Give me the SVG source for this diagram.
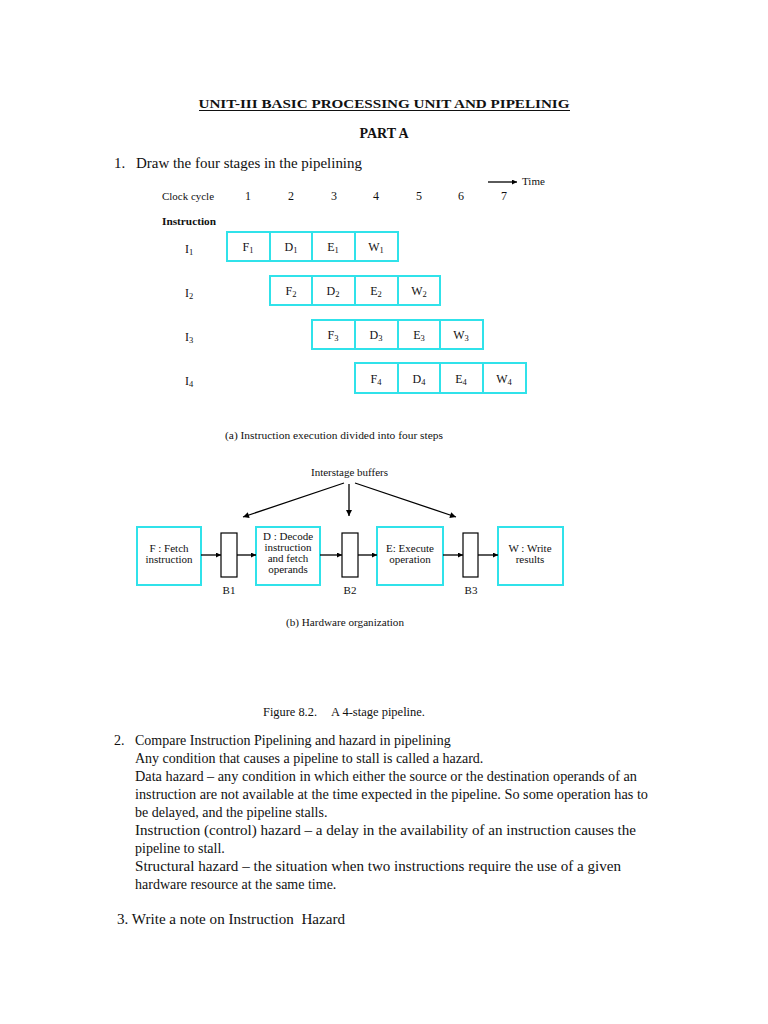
<svg xmlns="http://www.w3.org/2000/svg" width="768" height="1024" viewBox="0 0 768 1024">
<defs>
<marker id="ah" viewBox="0 0 10 10" refX="10" refY="5" markerWidth="7" markerHeight="5" markerUnits="userSpaceOnUse" orient="auto"><path d="M0,0 L10,5 L0,10 z" fill="#000"/></marker>
<marker id="ah2" viewBox="0 0 10 10" refX="10" refY="5" markerWidth="9" markerHeight="6" markerUnits="userSpaceOnUse" orient="auto"><path d="M0,0 L10,5 L0,10 z" fill="#000"/></marker>
<style>
text{font-family:"Liberation Serif","Times New Roman",serif;fill:#111}
.body{font-size:14px}
.sm{font-size:11px}
.cell{font-size:12px;text-anchor:middle}
.mid{text-anchor:middle}
.bx{font-size:11px;text-anchor:middle}
.box{fill:#fff;stroke:#30e2ea;stroke-width:2}
.buf{fill:#fff;stroke:#000;stroke-width:1.2}
.ln{stroke:#000;stroke-width:1.3;fill:none}
</style>
</defs>
<rect width="768" height="1024" fill="#fff"/>

<g id="header">
<text x="384" y="108" class="mid" font-size="13.5" font-weight="bold" textLength="371" lengthAdjust="spacingAndGlyphs">UNIT-III BASIC PROCESSING UNIT AND PIPELINIG</text>
<line x1="199" y1="110.5" x2="570" y2="110.5" stroke="#111" stroke-width="1"/>
<text x="384" y="138" class="mid" font-size="14" font-weight="bold">PART A</text>
<text x="114" y="168" font-size="15">1.</text>
<text x="136" y="168" font-size="15" textLength="226" lengthAdjust="spacingAndGlyphs">Draw the four stages in the pipelining</text>
</g>

<g id="chart-labels">
<line x1="488" y1="182" x2="517" y2="182" class="ln" marker-end="url(#ah)"/>
<text x="522" y="185" class="sm">Time</text>
<text x="162" y="200" class="sm" textLength="52" lengthAdjust="spacingAndGlyphs">Clock cycle</text>
<text x="248" y="200" class="cell" font-size="11.5">1</text>
<text x="291" y="200" class="cell" font-size="11.5">2</text>
<text x="334" y="200" class="cell" font-size="11.5">3</text>
<text x="376" y="200" class="cell" font-size="11.5">4</text>
<text x="419" y="200" class="cell" font-size="11.5">5</text>
<text x="461" y="200" class="cell" font-size="11.5">6</text>
<text x="504" y="200" class="cell" font-size="11.5">7</text>
<text x="162" y="225" class="sm" font-weight="bold" textLength="54" lengthAdjust="spacingAndGlyphs">Instruction</text>
<text x="185" y="253" font-size="12">I<tspan font-size="8.5" dy="2">1</tspan></text>
<text x="185" y="297" font-size="12">I<tspan font-size="8.5" dy="2">2</tspan></text>
<text x="185" y="341" font-size="12">I<tspan font-size="8.5" dy="2">3</tspan></text>
<text x="185" y="385" font-size="12">I<tspan font-size="8.5" dy="2">4</tspan></text>
</g>

<g id="row1">
<rect x="227" y="232" width="43" height="29" class="box"/><rect x="270" y="232" width="42" height="29" class="box"/><rect x="312" y="232" width="43" height="29" class="box"/><rect x="355" y="232" width="43" height="29" class="box"/>
<text x="248" y="251" class="cell">F<tspan font-size="8.5" dy="2">1</tspan></text>
<text x="291" y="251" class="cell">D<tspan font-size="8.5" dy="2">1</tspan></text>
<text x="333" y="251" class="cell">E<tspan font-size="8.5" dy="2">1</tspan></text>
<text x="376" y="251" class="cell">W<tspan font-size="8.5" dy="2">1</tspan></text>
</g>
<g id="row2">
<rect x="270" y="276" width="42" height="29" class="box"/><rect x="312" y="276" width="43" height="29" class="box"/><rect x="355" y="276" width="43" height="29" class="box"/><rect x="398" y="276" width="42" height="29" class="box"/>
<text x="291" y="295" class="cell">F<tspan font-size="8.5" dy="2">2</tspan></text>
<text x="333" y="295" class="cell">D<tspan font-size="8.5" dy="2">2</tspan></text>
<text x="376" y="295" class="cell">E<tspan font-size="8.5" dy="2">2</tspan></text>
<text x="419" y="295" class="cell">W<tspan font-size="8.5" dy="2">2</tspan></text>
</g>
<g id="row3">
<rect x="312" y="320" width="43" height="29" class="box"/><rect x="355" y="320" width="43" height="29" class="box"/><rect x="398" y="320" width="42" height="29" class="box"/><rect x="440" y="320" width="43" height="29" class="box"/>
<text x="333" y="339" class="cell">F<tspan font-size="8.5" dy="2">3</tspan></text>
<text x="376" y="339" class="cell">D<tspan font-size="8.5" dy="2">3</tspan></text>
<text x="419" y="339" class="cell">E<tspan font-size="8.5" dy="2">3</tspan></text>
<text x="461" y="339" class="cell">W<tspan font-size="8.5" dy="2">3</tspan></text>
</g>
<g id="row4">
<rect x="355" y="363" width="43" height="30" class="box"/><rect x="398" y="363" width="42" height="30" class="box"/><rect x="440" y="363" width="43" height="30" class="box"/><rect x="483" y="363" width="43" height="30" class="box"/>
<text x="376" y="383" class="cell">F<tspan font-size="8.5" dy="2">4</tspan></text>
<text x="419" y="383" class="cell">D<tspan font-size="8.5" dy="2">4</tspan></text>
<text x="461" y="383" class="cell">E<tspan font-size="8.5" dy="2">4</tspan></text>
<text x="504" y="383" class="cell">W<tspan font-size="8.5" dy="2">4</tspan></text>
</g>
<text x="225" y="439" font-size="11.2" textLength="218" lengthAdjust="spacingAndGlyphs">(a) Instruction execution divided into four steps</text>

<text id="interstage-label" x="311" y="476" font-size="11" textLength="77" lengthAdjust="spacingAndGlyphs">Interstage buffers</text>

<g id="stage-F">
<rect x="137" y="527" width="64" height="58" class="box"/>
<text x="169" y="552" class="bx">F : Fetch</text>
<text x="169" y="563" class="bx">instruction</text>
</g>
<g id="buffer-B1">
<rect x="221" y="533" width="16" height="44" class="buf"/>
<text x="229" y="594" class="bx">B1</text>
</g>
<g id="stage-D">
<rect x="256" y="527" width="64" height="58" class="box"/>
<text x="288" y="540" class="bx">D : Decode</text>
<text x="288" y="551" class="bx">instruction</text>
<text x="288" y="562" class="bx">and fetch</text>
<text x="288" y="573" class="bx">operands</text>
</g>
<g id="buffer-B2">
<rect x="342" y="533" width="16" height="44" class="buf"/>
<text x="350" y="594" class="bx">B2</text>
</g>
<g id="stage-E">
<rect x="377" y="527" width="66" height="58" class="box"/>
<text x="410" y="552" class="bx">E: Execute</text>
<text x="410" y="563" class="bx">operation</text>
</g>
<g id="buffer-B3">
<rect x="463" y="533" width="15" height="44" class="buf"/>
<text x="471" y="594" class="bx">B3</text>
</g>
<g id="stage-W">
<rect x="498" y="527" width="65" height="58" class="box"/>
<text x="530" y="552" class="bx">W : Write</text>
<text x="530" y="563" class="bx">results</text>
</g>

<g id="connectors">
<line x1="344" y1="483" x2="243" y2="517" class="ln" marker-end="url(#ah2)"/>
<line x1="349" y1="484" x2="349" y2="516" class="ln" marker-end="url(#ah2)"/>
<line x1="355" y1="483" x2="456" y2="517" class="ln" marker-end="url(#ah2)"/>
<line x1="201" y1="555" x2="221" y2="555" class="ln" marker-end="url(#ah)"/>
<line x1="237" y1="555" x2="256" y2="555" class="ln" marker-end="url(#ah)"/>
<line x1="320" y1="555" x2="342" y2="555" class="ln" marker-end="url(#ah)"/>
<line x1="358" y1="555" x2="377" y2="555" class="ln" marker-end="url(#ah)"/>
<line x1="443" y1="555" x2="463" y2="555" class="ln" marker-end="url(#ah)"/>
<line x1="478" y1="555" x2="498" y2="555" class="ln" marker-end="url(#ah)"/>
</g>

<text x="286" y="626" font-size="11.2" textLength="118" lengthAdjust="spacingAndGlyphs">(b) Hardware organization</text>
<text x="263" y="716" font-size="11.5" textLength="54" lengthAdjust="spacingAndGlyphs">Figure 8.2.</text>
<text x="331" y="716" font-size="11.5" textLength="94" lengthAdjust="spacingAndGlyphs">A 4-stage pipeline.</text>

<g id="question2">
<text x="114" y="745" class="body">2.</text>
<text x="135" y="745" class="body">Compare Instruction Pipelining and hazard in pipelining</text>
<text x="135" y="763" class="body">Any condition that causes a pipeline to stall is called a hazard.</text>
<text x="135" y="781" class="body" textLength="502" lengthAdjust="spacingAndGlyphs">Data hazard – any condition in which either the source or the destination operands of an</text>
<text x="135" y="799" class="body" textLength="513" lengthAdjust="spacingAndGlyphs">instruction are not available at the time expected in the pipeline. So some operation has to</text>
<text x="135" y="817" class="body">be delayed, and the pipeline stalls.</text>
<text x="135" y="835" class="body" textLength="501" lengthAdjust="spacingAndGlyphs">Instruction (control) hazard – a delay in the availability of an instruction causes the</text>
<text x="135" y="853" class="body">pipeline to stall.</text>
<text x="135" y="871" class="body" textLength="486" lengthAdjust="spacingAndGlyphs">Structural hazard – the situation when two instructions require the use of a given</text>
<text x="135" y="889" class="body">hardware resource at the same time.</text>
</g>
<text x="117" y="924" font-size="15" xml:space="preserve" textLength="228" lengthAdjust="spacingAndGlyphs">3. Write a note on Instruction  Hazard</text>
</svg>
